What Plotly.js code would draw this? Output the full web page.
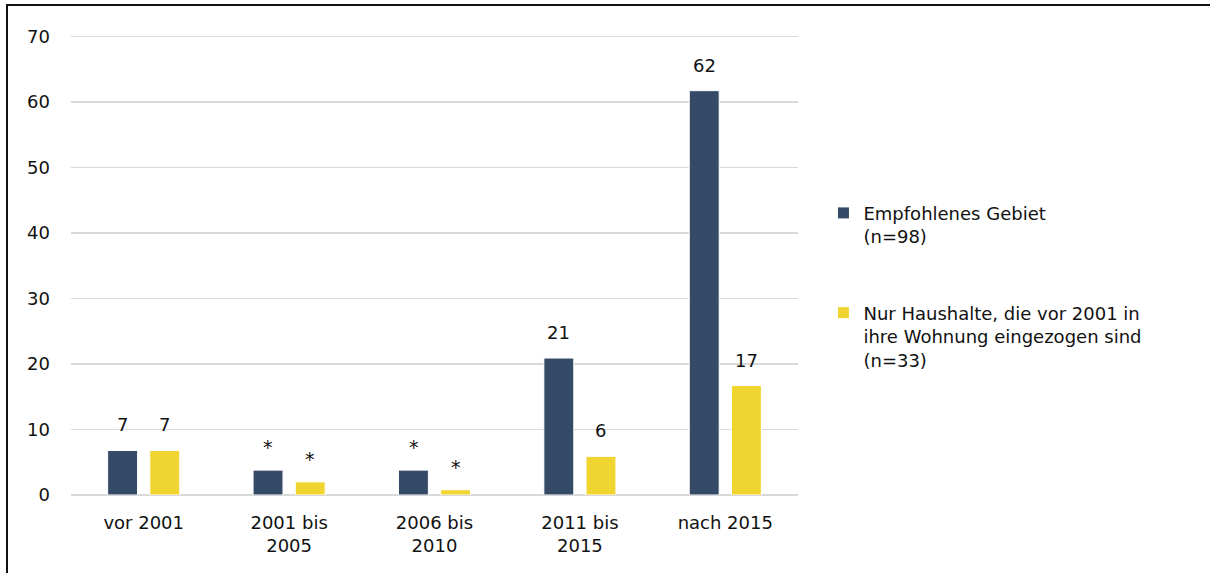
<!DOCTYPE html>
<html>
<head>
<meta charset="utf-8">
<script src="https://cdn.plot.ly/plotly-3.0.1.min.js"></script>
<style>
  html, body { margin: 0; padding: 0; background: #fff; overflow: hidden; }
  #chart {
    position: absolute; left: 6px; top: 4px;
    width: 1202px; height: 567px;
    border-top: 2px solid #111; border-left: 2px solid #111;
  }
</style>
</head>
<body>
<div id="chart"></div>
<script>
// Einzugszeitraum
const categories = ['vor 2001', '2001 bis<br>2005', '2006 bis<br>2010', '2011 bis<br>2015', 'nach 2015'];

const gebietName = 'Empfohlenes Gebiet<br>(n=98)';
const gebietValues = [6.8, 3.8, 3.8, 20.9, 61.7];
const gebietLabels = ['7', '*', '*', '21', '62'];

const altName = 'Nur Haushalte, die vor 2001 in<br>ihre Wohnung eingezogen sind<br>(n=33)';
const altValues = [6.8, 2.0, 0.8, 5.9, 16.7];
const altLabels = ['7', '*', '*', '6', '17'];

const yTicks = [0, 10, 20, 30, 40, 50, 60, 70];

const FONT = '"DejaVu Sans", "Open Sans", sans-serif';
const navy = '#344a66';
const yellow = '#f0d531';

function barTrace(name, values, color, group) {
    return {
        type: 'bar',
        name: name,
        x: categories,
        y: values,
        legendgroup: group,
        marker: { color: color, line: { color: '#ffffff', width: 1 } },
        hoverinfo: 'skip'
    };
}

// labels above the bars, like the Excel data labels
function labelNotes(values, labels, shift) {
    return values.map((v, i) => {
        const star = labels[i] === '*';
        return {
            x: categories[i], y: v,
            xref: 'x', yref: 'y',
            text: labels[i],
            showarrow: false,
            xanchor: 'center', yanchor: 'bottom',
            xshift: shift, yshift: star ? 10 : 13,
            font: { family: FONT, size: star ? 19 : 18, color: '#111' }
        };
    });
}

const layout = {
    width: 1202,
    height: 567,
    paper_bgcolor: '#fff',
    plot_bgcolor: '#fff',
    margin: { l: 63, r: 412, t: 27, b: 78 },
    font: { family: FONT, size: 18, color: '#111' },
    barmode: 'group',
    bargap: 0.42,
    bargroupgap: 0.29,
    xaxis: {
        type: 'category',
        showgrid: false,
        showline: false,
        ticks: '',
        ticklabelstandoff: 15,
        tickfont: { family: FONT, size: 18, color: '#111' }
    },
    yaxis: {
        range: [0, 70.5],
        tickvals: yTicks,
        showgrid: true,
        gridcolor: '#d9d9d9',
        gridwidth: 1.5,
        zeroline: true,
        zerolinecolor: '#d9d9d9',
        zerolinewidth: 1.5,
        showline: false,
        ticks: '',
        ticklabelstandoff: 20,
        tickfont: { family: FONT, size: 18, color: '#111' }
    },
    showlegend: true,
    legend: {
        x: 1.035, y: 0.65,
        xanchor: 'left', yanchor: 'top',
        valign: 'top',
        tracegroupgap: 50,
        itemwidth: 20,
        font: { family: FONT, size: 18, color: '#111' }
    },
    annotations: labelNotes(gebietValues, gebietLabels, -21).concat(labelNotes(altValues, altLabels, 21))
};

Plotly.newPlot('chart', [
    barTrace(gebietName, gebietValues, navy, 'a'),
    barTrace(altName, altValues, yellow, 'b')
], layout, { displayModeBar: false, staticPlot: true });
</script>
</body>
</html>
